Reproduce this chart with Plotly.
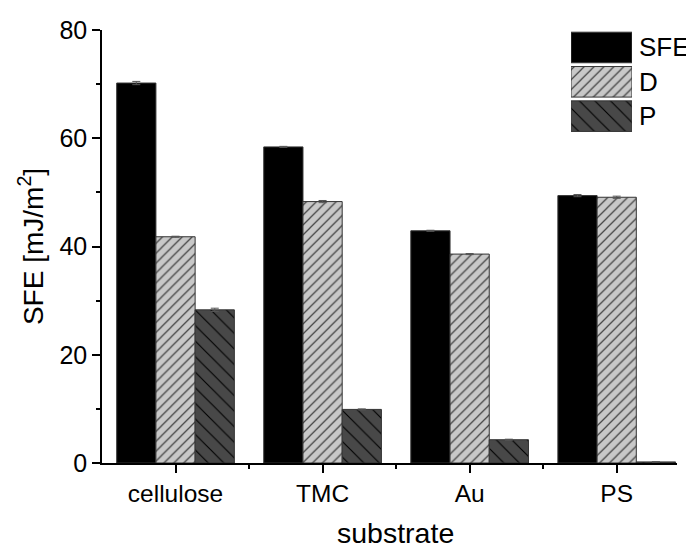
import plotly.graph_objects as go

categories = ["cellulose", "TMC", "Au", "PS"]
series_names = ["SFE", "D", "P"]
sfe = [70.2, 58.4, 42.9, 49.4]
sfe_err = [0.3, 0.1, 0.1, 0.2]
d_vals = [41.8, 48.3, 38.6, 49.1]
d_err = [0.1, 0.2, 0.1, 0.2]
p_vals = [28.3, 9.9, 4.3, 0.2]
p_err = [0.3, 0.1, 0.1, 0.05]
y_ticks = [0, 20, 40, 60, 80]
x_title = "substrate"
y_title = "SFE [mJ/m<sup>2</sup>]"

FONT = "Liberation Sans, Arial, sans-serif"
xpos = list(range(len(categories)))

styles = [
    dict(color="#000000", pattern=None),
    dict(color="#c8c8c8", pattern=dict(shape="/", fgcolor="#444444", bgcolor="#c8c8c8",
                                        size=7, solidity=0.18, fillmode="replace")),
    dict(color="#484848", pattern=dict(shape="\\", fgcolor="#000000", bgcolor="#484848",
                                        size=11, solidity=0.1, fillmode="replace")),
]
values = [sfe, d_vals, p_vals]
errors = [sfe_err, d_err, p_err]

fig = go.Figure()
for name, vals, errs, st in zip(series_names, values, errors, styles):
    marker = dict(color=st["color"], line=dict(color="#333333", width=1))
    if st["pattern"]:
        marker["pattern"] = st["pattern"]
    fig.add_trace(go.Bar(
        x=xpos, y=vals, name=name, marker=marker, showlegend=False,
        error_y=dict(type="data", array=errs, color="#555555", thickness=1, width=4),
    ))

# custom legend boxes drawn as horizontal bars on an overlay axis
for i, (name, st) in enumerate(zip(series_names, styles)):
    marker = dict(color=st["color"], line=dict(color="#333333", width=1))
    if st["pattern"]:
        marker["pattern"] = st["pattern"]
    fig.add_trace(go.Bar(
        x=[1], y=[i], orientation="h", marker=marker, width=0.89,
        xaxis="x2", yaxis="y2", showlegend=False, hoverinfo="skip",
    ))
    fig.add_annotation(
        x=0.9357, xref="paper", y=i, yref="y2", text=name, showarrow=False,
        xanchor="left", yanchor="middle", xshift=-3,
        font=dict(family=FONT, size=26, color="#000"),
    )

# x-axis title
fig.add_annotation(
    x=0.51, xref="paper", y=-0.161, yref="paper", text=x_title, showarrow=False,
    xanchor="center", yanchor="middle", borderpad=0,
    font=dict(family=FONT, size=28.5, color="#000"),
)

fig.update_layout(
    width=686, height=547,
    margin=dict(l=102, r=9, t=30, b=84),
    paper_bgcolor="white", plot_bgcolor="white",
    barmode="group", bargap=0.2, bargroupgap=0,
    font=dict(family=FONT, size=24, color="#000"),
    xaxis=dict(
        range=[-0.5, 3.41], tickmode="array", tickvals=xpos, ticktext=categories,
        showline=True, linecolor="#000", linewidth=1.5, showgrid=False, zeroline=False,
        ticks="outside", ticklen=8, tickwidth=1.5, tickcolor="#000",
        tickfont=dict(family=FONT, size=24.5), automargin=False,
        minor=dict(tickmode="array", tickvals=[0.5, 1.5, 2.5], ticks="outside",
                   ticklen=4, tickwidth=1.5, tickcolor="#000", showgrid=False),
    ),
    yaxis=dict(
        range=[0, 80], tickmode="array", tickvals=y_ticks,
        showline=True, linecolor="#000", linewidth=1.5, showgrid=False, zeroline=False,
        ticks="outside", ticklen=8, tickwidth=1.5, tickcolor="#000",
        tickfont=dict(family=FONT, size=25), automargin=False,
        minor=dict(tickmode="array", tickvals=[10, 30, 50, 70], ticks="outside",
                   ticklen=4, tickwidth=1.5, tickcolor="#000", showgrid=False),
        title=dict(text=y_title, font=dict(family=FONT, size=28), standoff=8),
    ),
    xaxis2=dict(domain=[0.8157, 0.9217], range=[0, 1], anchor="y2", visible=False, fixedrange=True),
    yaxis2=dict(domain=[0.7614, 0.9993], range=[2.5, -0.5], anchor="x2", visible=False, fixedrange=True),
)

fig.write_html("out.html")
